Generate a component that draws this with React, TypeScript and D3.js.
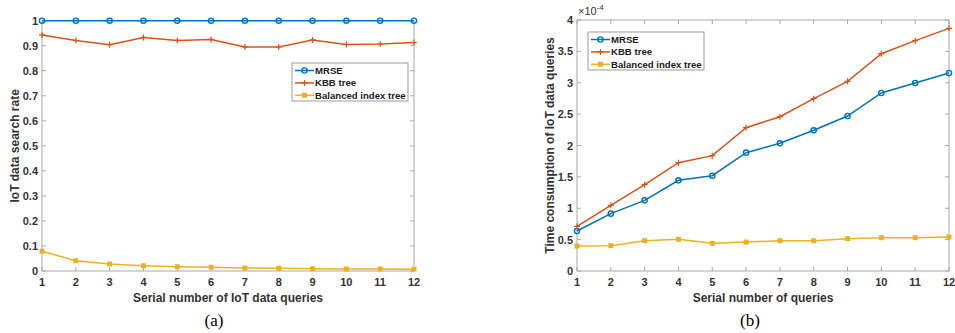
import React, { useEffect, useRef } from "react";
import * as d3 from "d3";

// serial numbers of queries
const queries = [1, 2, 3, 4, 5, 6, 7, 8, 9, 10, 11, 12];

// (a) IoT data search rate
const rateMRSE = [1, 1, 1, 1, 1, 1, 1, 1, 1, 1, 1, 1];
const rateKBB = [0.943, 0.921, 0.904, 0.933, 0.921, 0.925, 0.895, 0.895, 0.923, 0.905, 0.907, 0.913];
const rateBalanced = [0.079, 0.041, 0.028, 0.021, 0.017, 0.015, 0.012, 0.011, 0.009, 0.008, 0.008, 0.007];
const rateTicks = [0, 0.1, 0.2, 0.3, 0.4, 0.5, 0.6, 0.7, 0.8, 0.9, 1];

// (b) time consumption, in units of 1e-4
const timeMRSE = [0.637, 0.914, 1.126, 1.445, 1.519, 1.886, 2.035, 2.242, 2.47, 2.837, 2.996, 3.155];
const timeKBB = [0.712, 1.046, 1.376, 1.726, 1.838, 2.284, 2.459, 2.746, 3.023, 3.463, 3.671, 3.867];
const timeBalanced = [0.398, 0.404, 0.483, 0.505, 0.441, 0.462, 0.483, 0.483, 0.515, 0.531, 0.531, 0.542];
const timeTicks = [0, 0.5, 1, 1.5, 2, 2.5, 3, 3.5, 4];

const seriesNames = ["MRSE", "KBB tree", "Balanced index tree"];
const colors = ["#0072BD", "#D95319", "#EDB120"];
const markers = ["circle", "plus", "square"];

const FONT = "'Liberation Sans', Arial, sans-serif";

function drawMarker(g: any, kind: string, cx: number, cy: number, color: string) {
  if (kind === "circle") {
    g.append("circle").attr("cx", cx).attr("cy", cy).attr("r", 2.6)
      .attr("fill", "none").attr("stroke", color).attr("stroke-width", 1.4);
  } else if (kind === "plus") {
    g.append("path")
      .attr("d", `M${cx - 3},${cy}H${cx + 3}M${cx},${cy - 3}V${cy + 3}`)
      .attr("stroke", color).attr("stroke-width", 1.2);
  } else {
    g.append("rect").attr("x", cx - 2.5).attr("y", cy - 2.5).attr("width", 5).attr("height", 5)
      .attr("fill", color);
  }
}

function drawPanel(svg: any, opts: any) {
  const { left, right, top, bottom, yMax, ticks, tickFmt, data, yTitle, xTitle, caption, legend, topBorder, yTitleX, exponent } = opts;

  const x = d3.scaleLinear().domain([1, 12]).range([left, right]);
  const y = d3.scaleLinear().domain([0, yMax]).range([bottom, top]);
  const axisColor = "#a8a8a8";
  const g = svg.append("g");

  // axes box
  g.append("line").attr("x1", left).attr("x2", left).attr("y1", top).attr("y2", bottom).attr("stroke", axisColor);
  g.append("line").attr("x1", right).attr("x2", right).attr("y1", top).attr("y2", bottom).attr("stroke", axisColor);
  g.append("line").attr("x1", left).attr("x2", right).attr("y1", bottom).attr("y2", bottom).attr("stroke", axisColor);
  if (topBorder) {
    g.append("line").attr("x1", left).attr("x2", right).attr("y1", top).attr("y2", top).attr("stroke", axisColor);
  }

  // ticks
  queries.forEach((q) => {
    g.append("line").attr("x1", x(q)).attr("x2", x(q)).attr("y1", bottom).attr("y2", bottom - 4).attr("stroke", axisColor);
    if (topBorder) g.append("line").attr("x1", x(q)).attr("x2", x(q)).attr("y1", top).attr("y2", top + 4).attr("stroke", axisColor);
    g.append("text").attr("x", x(q)).attr("y", bottom + 15).attr("text-anchor", "middle")
      .attr("font-family", FONT).attr("font-weight", "bold").attr("font-size", 11).attr("fill", "#333")
      .text(q);
  });
  ticks.forEach((t: number) => {
    g.append("line").attr("x1", left).attr("x2", left + 4).attr("y1", y(t)).attr("y2", y(t)).attr("stroke", axisColor);
    g.append("line").attr("x1", right).attr("x2", right - 4).attr("y1", y(t)).attr("y2", y(t)).attr("stroke", axisColor);
    g.append("text").attr("x", left - 4).attr("y", y(t) + 4).attr("text-anchor", "end")
      .attr("font-family", FONT).attr("font-weight", "bold").attr("font-size", 11).attr("fill", "#333")
      .text(tickFmt(t));
  });

  if (exponent) {
    const ex = g.append("text").attr("x", left + 1).attr("y", top - 5)
      .attr("font-family", FONT).attr("font-size", 11).attr("fill", "#333");
    ex.append("tspan").text("\u00d710");
    ex.append("tspan").attr("dy", -5).attr("font-size", 8).text("-4");
  }

  // lines
  data.forEach((vals: number[], i: number) => {
    const line = d3.line<number>().x((d, j) => x(queries[j])).y((d) => y(d));
    g.append("path").datum(vals).attr("d", line).attr("fill", "none")
      .attr("stroke", colors[i]).attr("stroke-width", 1.5);
    vals.forEach((v, j) => drawMarker(g, markers[i], x(queries[j]), y(v), colors[i]));
  });

  // legend
  const lg = g.append("g");
  lg.append("rect").attr("x", legend.x).attr("y", legend.y).attr("width", legend.w).attr("height", legend.h)
    .attr("fill", "white").attr("stroke", "#999");
  seriesNames.forEach((name, i) => {
    const ry = legend.y + 7.5 + i * 12.4;
    lg.append("line").attr("x1", legend.x + 3).attr("x2", legend.x + 22).attr("y1", ry).attr("y2", ry)
      .attr("stroke", colors[i]).attr("stroke-width", 1.5);
    drawMarker(lg, markers[i], legend.x + 12.5, ry, colors[i]);
    lg.append("text").attr("x", legend.x + 23).attr("y", ry + 3.5)
      .attr("font-family", FONT).attr("font-weight", "bold").attr("font-size", 9.6).attr("fill", "#222")
      .text(name);
  });

  // titles
  g.append("text").attr("transform", `translate(${yTitleX},${(top + bottom) / 2}) rotate(-90)`)
    .attr("text-anchor", "middle").attr("font-family", FONT).attr("font-weight", "bold").attr("font-size", 12).attr("fill", "#333")
    .text(yTitle);
  g.append("text").attr("x", (left + right) / 2).attr("y", bottom + 31).attr("text-anchor", "middle")
    .attr("font-family", FONT).attr("font-weight", "bold").attr("font-size", 12).attr("fill", "#333")
    .text(xTitle);
  g.append("text").attr("x", opts.captionX).attr("y", bottom + 55).attr("text-anchor", "middle")
    .attr("font-family", "'Liberation Serif', 'Times New Roman', serif").attr("font-size", 17).attr("fill", "#000")
    .text(caption);
}

export default function App() {
  const ref = useRef<SVGSVGElement>(null);

  useEffect(() => {
    const svg = d3.select(ref.current);
    svg.selectAll("*").remove();

    drawPanel(svg, {
      left: 42, right: 414, top: 20.7, bottom: 271, yMax: 1, ticks: rateTicks,
      tickFmt: (t: number) => String(t),
      data: [rateMRSE, rateKBB, rateBalanced],
      yTitle: "IoT data search rate", xTitle: "Serial number of IoT data queries", caption: "(a)",
      captionX: 214, yTitleX: 19, topBorder: false, exponent: false,
      legend: { x: 292, y: 63, w: 116, h: 38 },
    });
    drawPanel(svg, {
      left: 577, right: 949, top: 20, bottom: 271, yMax: 4, ticks: timeTicks,
      tickFmt: (t: number) => String(t),
      data: [timeMRSE, timeKBB, timeBalanced],
      yTitle: "Time consumption of IoT data queries", xTitle: "Serial number of queries", caption: "(b)",
      captionX: 750, yTitleX: 554, topBorder: true, exponent: true,
      legend: { x: 588, y: 32, w: 116, h: 38 },
    });
  }, []);

  return (
    <svg ref={ref} width={955} height={333}
      style={{ position: "absolute", left: 0, top: 0, background: "white" }} />
  );
}
